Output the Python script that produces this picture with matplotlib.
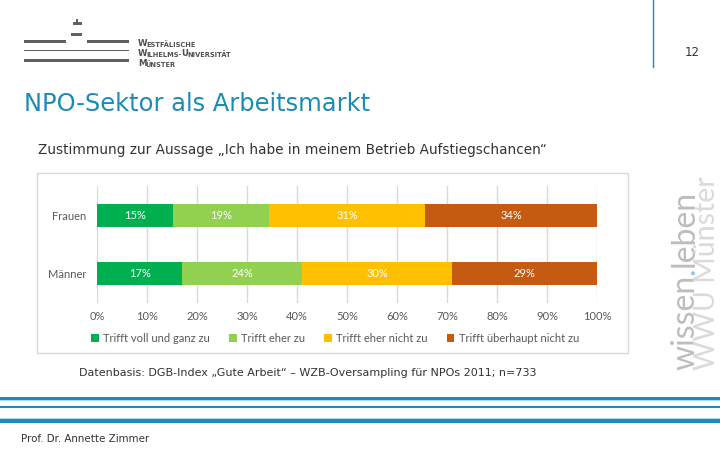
import numpy as np
import matplotlib as mpl
mpl.use('Agg')
import matplotlib.pyplot as plt
from matplotlib.patches import Rectangle

# data
categories = ['Männer', 'Frauen']
answers = ['Trifft voll und ganz zu', 'Trifft eher zu',
           'Trifft eher nicht zu', 'Trifft überhaupt nicht zu']
maenner = [17, 24, 30, 29]
frauen = [15, 19, 31, 34]
xticks = [0, 10, 20, 30, 40, 50, 60, 70, 80, 90, 100]
xticklabels = ['{}%'.format(t) for t in xticks]

colors = ['#00b050', '#92d050', '#ffc000', '#c55a11']
blue = '#1a8cbc'
chart_font = 'Lato'

fig = plt.figure(figsize=(7.2, 4.5), dpi=100)

# overlay in pixel coordinates for the slide decoration
ov = fig.add_axes([0, 0, 1, 1], zorder=0)
ov.set_xlim(0, 720)
ov.set_ylim(450, 0)
ov.axis('off')

# logo
ov.add_patch(Rectangle((76, 19), 2, 3, color='#606060', lw=0))
ov.add_patch(Rectangle((73, 22), 9, 3, color='#606060', lw=0))
ov.add_patch(Rectangle((71, 33), 11, 3, color='#606060', lw=0))
ov.add_patch(Rectangle((24, 40), 42, 2.5, color='#606060', lw=0))
ov.add_patch(Rectangle((87, 40), 42, 2.5, color='#606060', lw=0))
ov.add_patch(Rectangle((24, 50), 105, 1.2, color='#606060', lw=0))
ov.add_patch(Rectangle((24, 59), 105, 2.5, color='#606060', lw=0))


def smallcaps(x, y, parts):
    prev = None
    for i, p in enumerate(parts):
        size = 6.2 if i % 2 == 0 else 4.8
        if prev is None:
            prev = ov.text(x, y, p, fontsize=size, fontweight='bold', color='#505050',
                           va='baseline', ha='left')
        else:
            prev = ov.annotate(p, xy=(1, 0), xycoords=prev, xytext=(-0.6, 0),
                               textcoords='offset points', fontsize=size,
                               fontweight='bold', color='#505050', va='bottom', ha='left')


smallcaps(138, 46, ['W', 'ESTFÄLISCHE'])
smallcaps(138, 56, ['W', 'ILHELMS-', 'U', 'NIVERSITÄT'])
smallcaps(138, 66, ['M', 'ÜNSTER'])

ov.plot([653, 653], [0, 67], color=blue, lw=1)
ov.text(692, 53, '12', fontsize=8.5, color='#333333', ha='center', va='center')

ov.text(24, 104, 'NPO-Sektor als Arbeitsmarkt', fontsize=17.4, color='#1a8cb4',
        ha='left', va='center')
ov.text(38, 150, 'Zustimmung zur Aussage \u201eIch habe in meinem Betrieb Aufstiegschancen\u201c',
        fontsize=9.85, color='#333333', ha='left', va='center')
ov.text(79, 373, 'Datenbasis: DGB-Index \u201eGute Arbeit\u201c \u2013 WZB-Oversampling f\u00fcr NPOs 2011; n=733',
        fontsize=8.0, color='#333333', ha='left', va='center')
ov.text(21, 439, 'Prof. Dr. Annette Zimmer', fontsize=7.4, color='#333333',
        ha='left', va='center')

# blue lines at the bottom
ov.add_patch(Rectangle((0, 396.5), 720, 3.2, color=blue, lw=0))
ov.add_patch(Rectangle((0, 399.7), 720, 1, color='#a8dcef', lw=0))
ov.add_patch(Rectangle((0, 406), 720, 1.8, color=blue, lw=0))
ov.add_patch(Rectangle((0, 418.2), 720, 1, color='#a8dcef', lw=0))
ov.add_patch(Rectangle((0, 419.2), 720, 3.3, color=blue, lw=0))

# rotated claim
r = fig.canvas.get_renderer()
kw = dict(rotation=90, rotation_mode='anchor', ha='left', va='baseline', family='Lato')
t = ov.text(694, 370, 'wissen', color='#bdbdbd', fontsize=23, **kw)
h = t.get_window_extent(r).height
t = ov.text(694, 370 - h, '.', color='#8cc8e4', fontsize=23, **kw)
h2 = t.get_window_extent(r).height
ov.text(694, 370 - h - h2, 'leben', color='#bdbdbd', fontsize=23, **kw)
ov.text(715, 370, 'WWU Münster', color='#dadada', fontsize=20.5, **kw)

# chart frame
ov.add_patch(Rectangle((37, 173), 591, 180, fill=False, edgecolor='#d9d9d9', lw=1))

# chart
ax = fig.add_axes([97 / 720, 1 - 303 / 450, 500 / 720, 117 / 450], zorder=1)
ax.set_facecolor('none')
ypos = np.arange(len(categories))
rows = np.array([maenner, frauen], dtype=float)
shares = rows / rows.sum(axis=1, keepdims=True) * 100
left = np.zeros(len(categories))
for j, ans in enumerate(answers):
    bars = ax.barh(ypos, shares[:, j], left=left, height=0.4, color=colors[j],
                   label=ans, zorder=2)
    for k, b in enumerate(bars):
        ax.text(left[k] + shares[k, j] / 2, ypos[k], '{}%'.format(int(rows[k, j])),
                ha='center', va='center', color='white', fontsize=8,
                family=chart_font, zorder=3)
    left += shares[:, j]

ax.set_xlim(0, 100)
ax.set_ylim(-0.5, 1.5)
ax.set_xticks(xticks)
ax.set_xticklabels(xticklabels)
ax.set_yticks(ypos)
ax.set_yticklabels(categories)
ax.grid(axis='x', color='#d9d9d9', lw=1, zorder=0)
ax.tick_params(length=0, labelsize=8, labelcolor='#595959', pad=6)
ax.tick_params(axis='y', pad=8)
for lab in ax.get_xticklabels() + ax.get_yticklabels():
    lab.set_family(chart_font)
for s in ax.spines.values():
    s.set_visible(False)

handles, labels = ax.get_legend_handles_labels()
leg = ax.legend(handles, labels, ncol=4, loc='center',
                bbox_to_anchor=(335 / 720, 1 - 338 / 450), bbox_transform=fig.transFigure,
                frameon=False, handlelength=0.7, handleheight=0.7, handletextpad=0.4,
                columnspacing=1.7, prop={'family': chart_font, 'size': 8})
for tx in leg.get_texts():
    tx.set_color('#595959')

fig.savefig('out.png', dpi=100)
